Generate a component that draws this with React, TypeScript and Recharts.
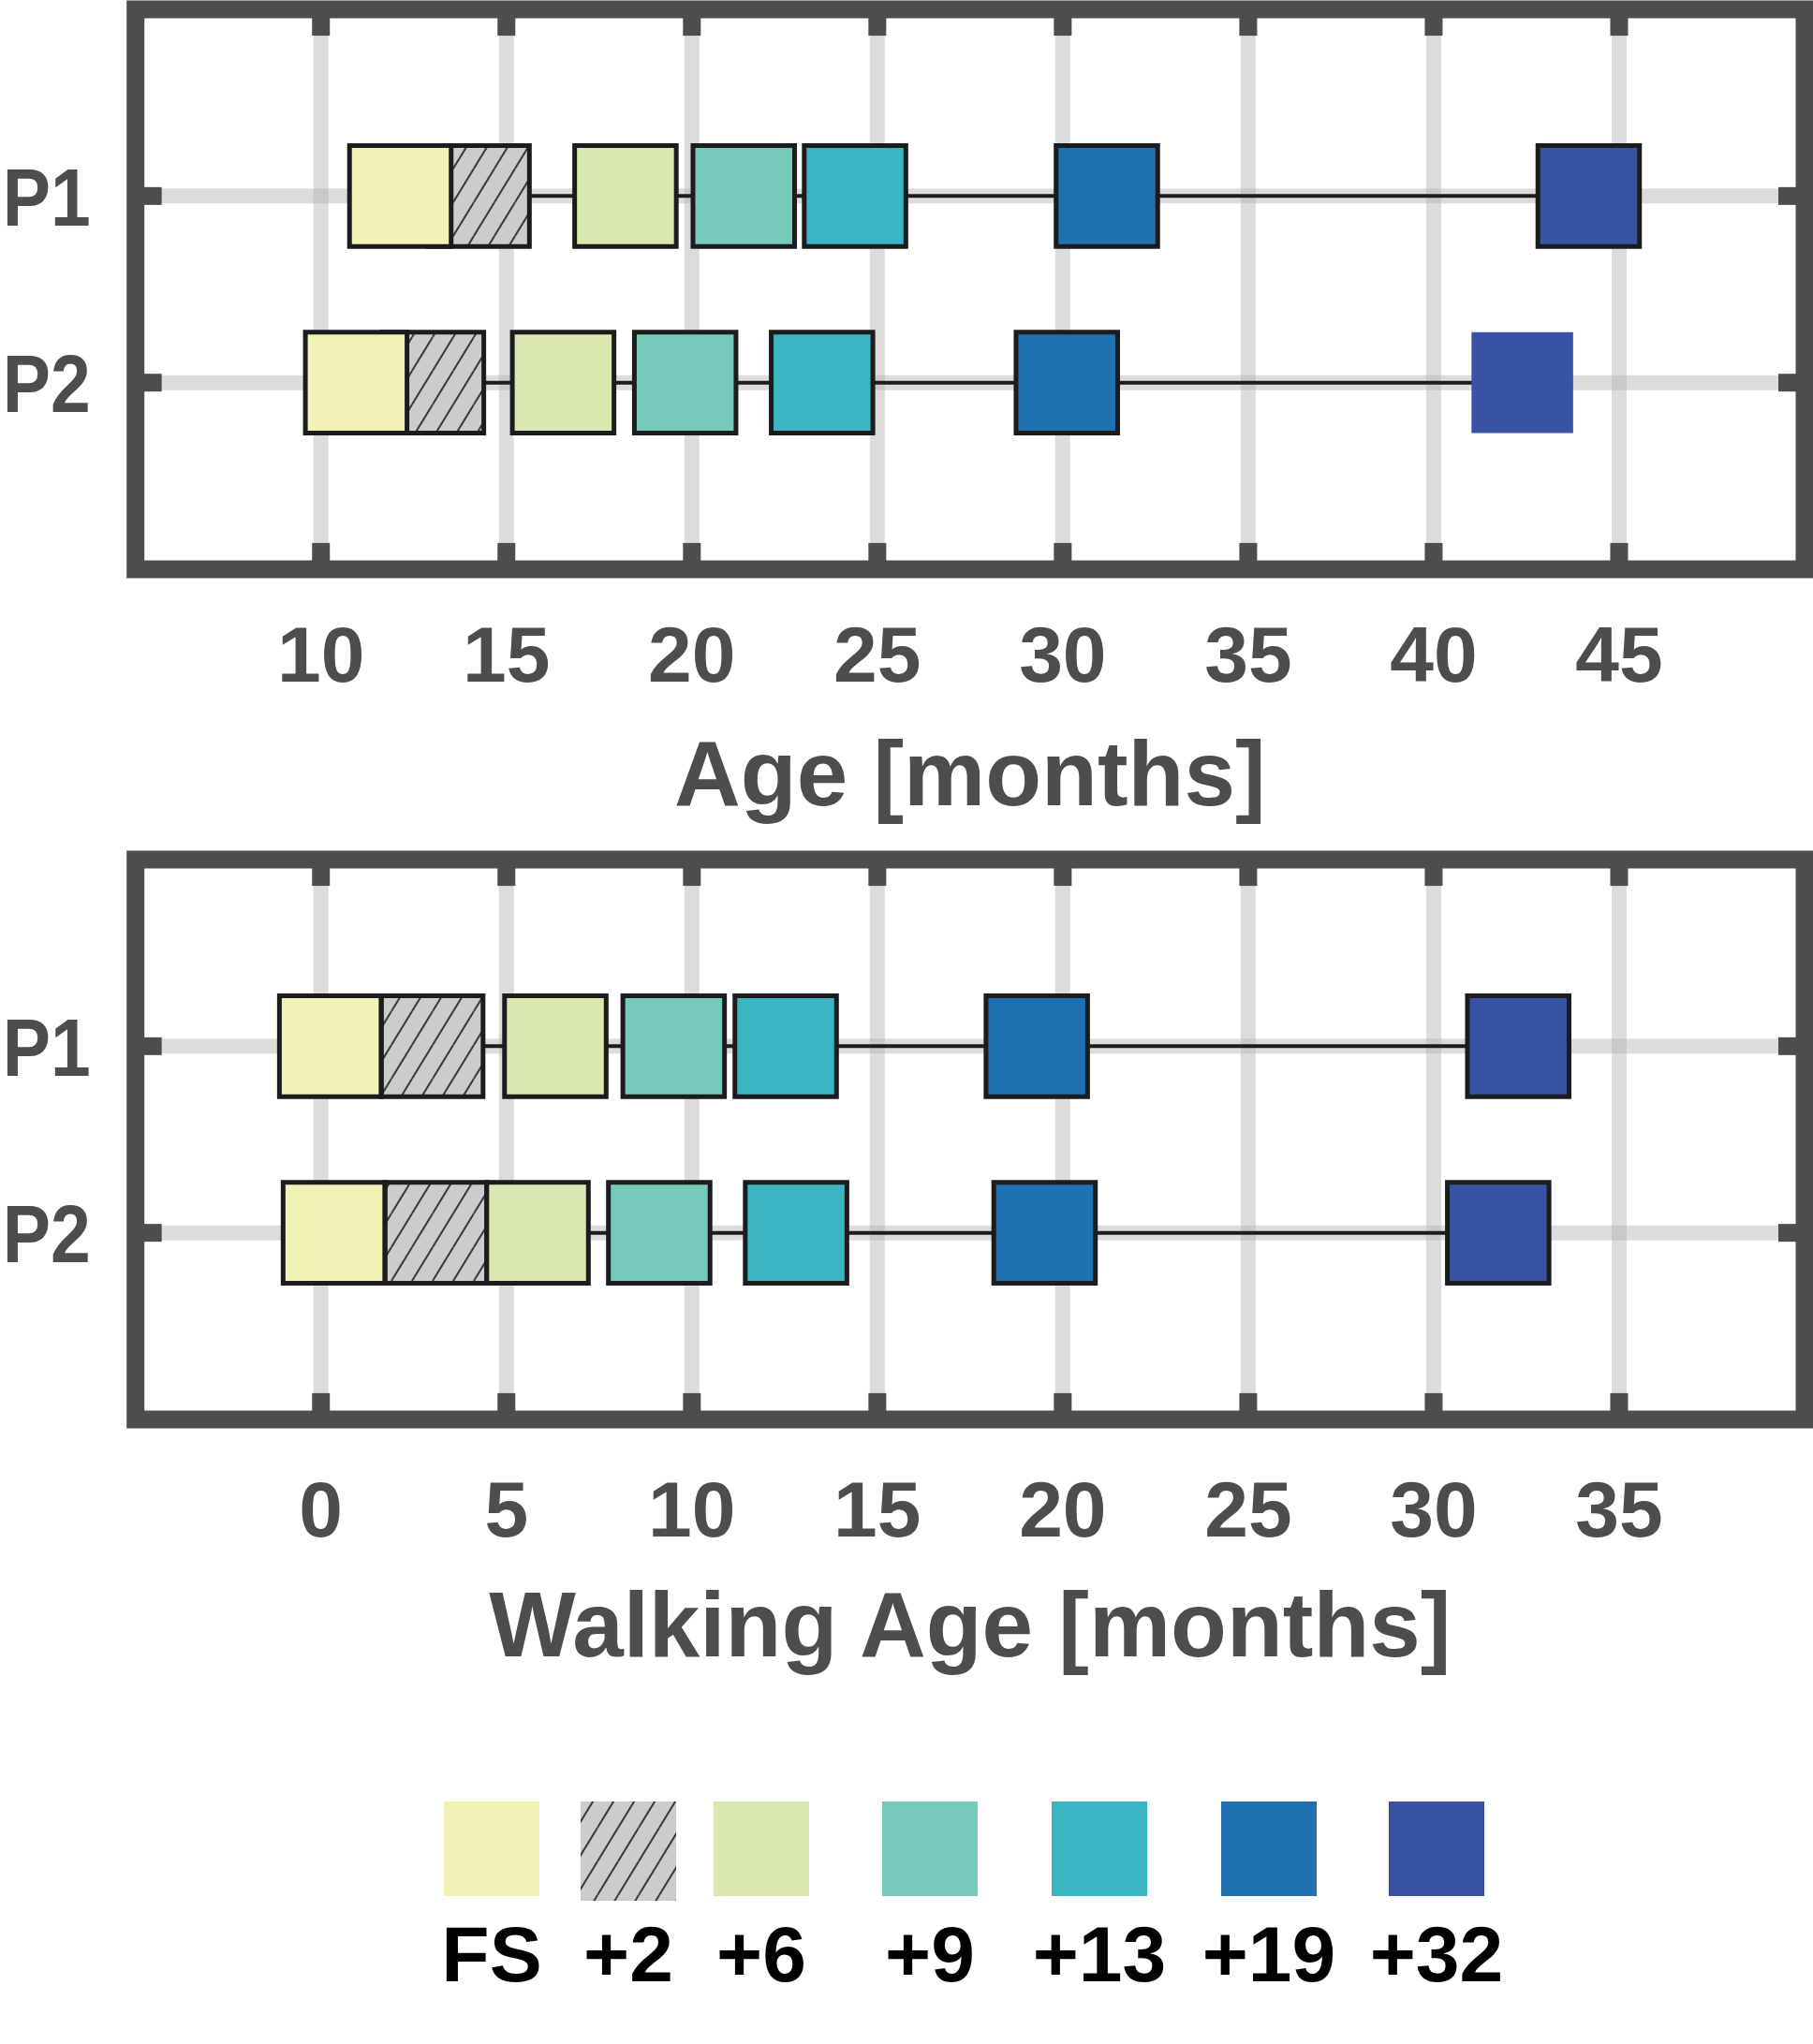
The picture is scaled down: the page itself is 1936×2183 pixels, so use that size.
import React from "react";
import {
  ComposedChart,
  XAxis,
  YAxis,
  CartesianGrid,
  ReferenceArea,
  ReferenceLine,
} from "recharts";

// sessions: first steps and months after
const sessions = ["FS", "+2", "+6", "+9", "+13", "+19", "+32"];
const patients = ["P1", "P2"];

// session centres in months
const ageP1 = [12.14, 14.25, 18.21, 21.4, 24.4, 31.19, 44.18];
const ageP2 = [10.95, 13.02, 16.53, 19.82, 23.51, 30.11, 42.39];
const walkP1 = [0.25, 3.0, 6.32, 9.51, 12.53, 19.3, 32.28];
const walkP2 = [0.35, 3.1, 5.84, 9.12, 12.81, 19.51, 31.74];

const ageTicks = [10, 15, 20, 25, 30, 35, 40, 45];
const walkTicks = [0, 5, 10, 15, 20, 25, 30, 35];

const GRAY = "#4d4d4d";
const INK = "#1c1c1c";
const FONT = "'Liberation Sans', Arial, Helvetica, sans-serif";
const colors = ["#f0f3b5", "hatch", "#d9e8b0", "#76cabb", "#3bb4c4", "#1e72b1", "#3953a4"];

const BOX_W = 2.74; // months
const BOX_H = 0.54; // rows
const drawOrder = [1, 0, 2, 3, 4, 5, 6];

type PanelProps = {
  id: string;
  domain: [number, number];
  ticks: number[];
  rows: number[][];
  label: string;
  top: number;
  tickMargin: number;
  labelOffset: number;
  noOutline?: [number, number];
};

function Hatch({ id }: { id: string }) {
  return (
    <pattern id={id} patternUnits="userSpaceOnUse" width="22" height="36">
      <rect width="22" height="36" fill="#cccccc" />
      <line x1="0" y1="36" x2="22" y2="0" stroke="#3a3a3a" strokeWidth="2" />
      <line x1="-22" y1="36" x2="0" y2="0" stroke="#3a3a3a" strokeWidth="2" />
      <line x1="22" y1="36" x2="44" y2="0" stroke="#3a3a3a" strokeWidth="2" />
    </pattern>
  );
}

function RowTick(props: any) {
  const { x, y, payload } = props;
  return (
    <text
      x={x}
      y={y}
      dy="0.355em"
      textAnchor="end"
      fontSize={88}
      fontWeight={700}
      fill={GRAY}
      fontFamily={FONT}
      textLength={94}
      lengthAdjust="spacingAndGlyphs"
    >
      {patients[payload.value - 1]}
    </text>
  );
}

function Panel({ id, domain, ticks, rows, label, top, tickMargin, labelOffset, noOutline }: PanelProps) {
  const [x0, x1] = domain;
  const stubX = (x1 - x0) * 0.0157;
  const stubY = 3 * 0.047;
  const rowIds = [1, 2];
  const fillOf = (i: number) => (colors[i] === "hatch" ? `url(#hatch-${id})` : colors[i]);
  const axisText = { fontSize: 84, fontWeight: 700, fill: GRAY, fontFamily: FONT };

  return (
    <ComposedChart width={1936} height={top + 598 + 292} margin={{ top, right: 9, left: 0, bottom: 0 }}>
      <defs>
        <Hatch id={`hatch-${id}`} />
      </defs>
      <CartesianGrid stroke="#b2b2b2" strokeOpacity={0.45} strokeWidth={16} />
      <XAxis
        type="number"
        dataKey="x"
        domain={domain}
        ticks={ticks}
        interval={0}
        allowDataOverflow
        axisLine={false}
        tickLine={false}
        height={292}
        tickMargin={tickMargin}
        tick={axisText}
        label={{
          value: label,
          position: "insideBottom",
          offset: labelOffset,
          fontSize: 98,
          fontWeight: 700,
          fill: GRAY,
          fontFamily: FONT,
        }}
      />
      <YAxis
        type="number"
        domain={[0, 3]}
        reversed
        ticks={rowIds}
        interval={0}
        allowDataOverflow
        width={144.7}
        axisLine={false}
        tickLine={false}
        tickMargin={42}
        tick={<RowTick />}
      />

      {rows.map((c, r) => (
        <ReferenceLine
          key={`link-${r}`}
          segment={[
            { x: c[0], y: rowIds[r] },
            { x: c[c.length - 1], y: rowIds[r] },
          ]}
          stroke={INK}
          strokeWidth={4}
          ifOverflow="visible"
          zIndex={50}
        />
      ))}

      {rows.map((c, r) =>
        drawOrder.map((i) => {
          const bare = noOutline && noOutline[0] === r && noOutline[1] === i;
          return (
            <ReferenceArea
              key={`box-${r}-${i}`}
              x1={c[i] - BOX_W / 2}
              x2={c[i] + BOX_W / 2}
              y1={rowIds[r] - BOX_H / 2}
              y2={rowIds[r] + BOX_H / 2}
              fill={fillOf(i)}
              fillOpacity={1}
              stroke={bare ? "none" : INK}
              strokeWidth={5}
              ifOverflow="visible"
              zIndex={100}
            />
          );
        })
      )}

      <ReferenceArea
        x1={x0}
        x2={x1}
        y1={0}
        y2={3}
        fill="none"
        stroke={GRAY}
        strokeWidth={19}
        ifOverflow="visible"
        zIndex={700}
      />

      {ticks.map((t) => (
        <ReferenceLine
          key={`tt-${t}`}
          segment={[
            { x: t, y: 0 },
            { x: t, y: stubY },
          ]}
          stroke={GRAY}
          strokeWidth={19}
          ifOverflow="visible"
          zIndex={800}
        />
      ))}
      {ticks.map((t) => (
        <ReferenceLine
          key={`tb-${t}`}
          segment={[
            { x: t, y: 3 },
            { x: t, y: 3 - stubY },
          ]}
          stroke={GRAY}
          strokeWidth={19}
          ifOverflow="visible"
          zIndex={800}
        />
      ))}
      {rowIds.map((r) => (
        <ReferenceLine
          key={`tl-${r}`}
          segment={[
            { x: x0, y: r },
            { x: x0 + stubX, y: r },
          ]}
          stroke={GRAY}
          strokeWidth={19}
          ifOverflow="visible"
          zIndex={800}
        />
      ))}
      {rowIds.map((r) => (
        <ReferenceLine
          key={`tr-${r}`}
          segment={[
            { x: x1, y: r },
            { x: x1 - stubX, y: r },
          ]}
          stroke={GRAY}
          strokeWidth={19}
          ifOverflow="visible"
          zIndex={800}
        />
      ))}
    </ComposedChart>
  );
}

const legendCx = [525, 671, 813, 993, 1174, 1355, 1534];

function Legend() {
  return (
    <svg width={1936} height={303} style={{ display: "block" }}>
      <defs>
        <Hatch id="hatch-legend" />
      </defs>
      {sessions.map((s, i) => (
        <g key={s}>
          <rect
            x={legendCx[i] - 51}
            y={44}
            width={102}
            height={colors[i] === "hatch" ? 106 : 101}
            fill={colors[i] === "hatch" ? "url(#hatch-legend)" : colors[i]}
          />
          <text
            x={legendCx[i]}
            y={236}
            textAnchor="middle"
            fontSize={84}
            fontWeight={700}
            fontFamily={FONT}
            fill="#000"
          >
            {s}
          </text>
        </g>
      ))}
    </svg>
  );
}

export default function App() {
  return (
    <div style={{ position: "absolute", left: 0, top: 0, width: 1936, height: 2183, background: "#fff" }}>
      <div style={{ position: "absolute", left: 0, top: 0 }}>
        <Panel
          id="age"
          domain={[5, 50]}
          ticks={ageTicks}
          rows={[ageP1, ageP2]}
          label="Age [months]"
          top={10}
          tickMargin={54}
          labelOffset={40}
          noOutline={[1, 6]}
        />
      </div>
      <div style={{ position: "absolute", left: 0, top: 900 }}>
        <Panel
          id="walk"
          domain={[-5, 40]}
          ticks={walkTicks}
          rows={[walkP1, walkP2]}
          label="Walking Age [months]"
          top={18}
          tickMargin={59}
          labelOffset={39}
        />
      </div>
      <div style={{ position: "absolute", left: 0, top: 1880 }}>
        <Legend />
      </div>
    </div>
  );
}
